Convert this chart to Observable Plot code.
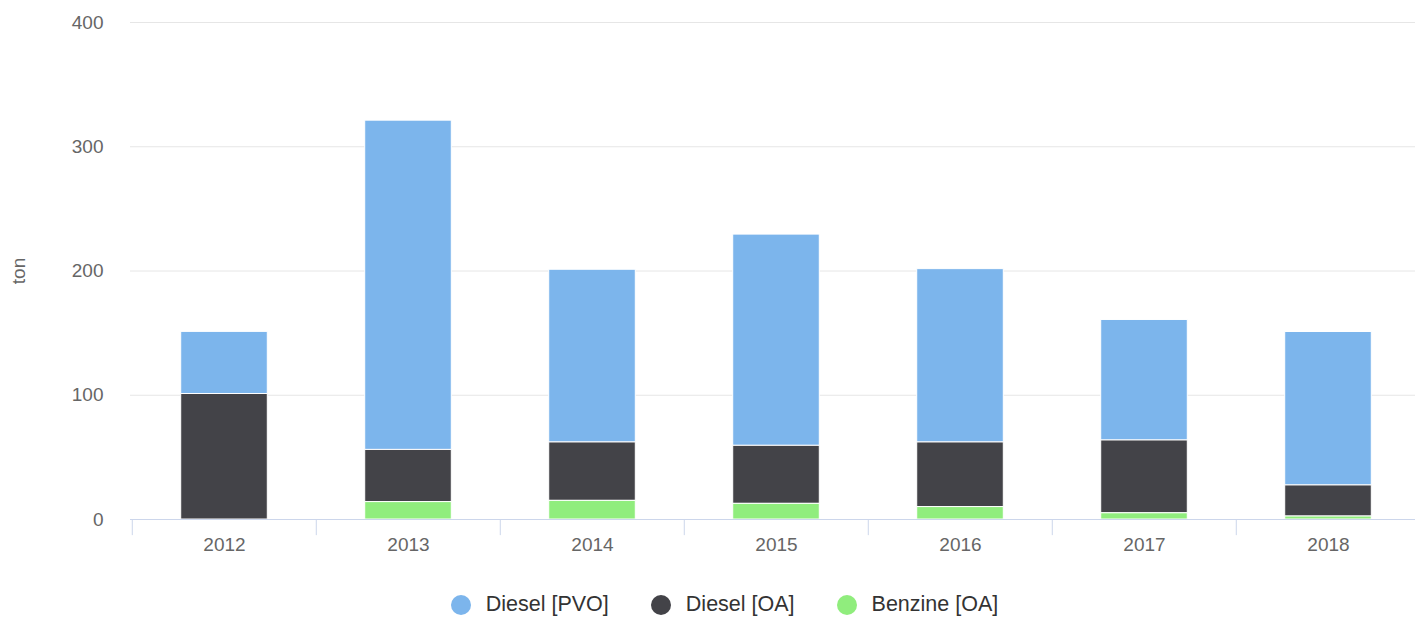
<!DOCTYPE html>
<html>
<head>
<meta charset="utf-8">
<script src="https://cdn.jsdelivr.net/npm/d3@7"></script>
<script src="https://cdn.jsdelivr.net/npm/@observablehq/plot@0.6"></script>
<style>
  html, body { margin: 0; padding: 0; background: #fff; overflow: hidden; }
  body { width: 1415px; height: 619px; position: relative; font-family: "Liberation Sans", Arial, sans-serif; }
  #chart { width: 1415px; overflow: hidden; }
  #legend { position: absolute; left: 17px; top: 592px; width: 1415px; display: flex; justify-content: center; align-items: center; font-size: 21.5px; color: #333; }
  .item { display: flex; align-items: center; margin: 0 21px; }
  .dot { width: 20px; height: 20px; border-radius: 50%; margin-right: 15px; }
</style>
</head>
<body>
<div id="chart"></div>
<div id="legend"></div>
<script>
const years = ["2012", "2013", "2014", "2015", "2016", "2017", "2018"];
const seriesNames = ["Diesel [PVO]", "Diesel [OA]", "Benzine [OA]"];
const seriesColors = ["#7cb5ec", "#434348", "#90ed7d"];
const dieselPVO = [50, 265, 139, 170, 139.5, 97, 123.5];
const dieselOA = [101, 42, 47, 46.7, 52, 58.6, 25];
const benzineOA = [0, 14, 15, 12.6, 10, 5, 2.4];
const yTicks = [0, 100, 200, 300, 400];

const seriesValues = [dieselPVO, dieselOA, benzineOA];
const data = [];
years.forEach((yr, i) => {
  seriesNames.forEach((s, j) => data.push({year: yr, series: s, value: seriesValues[j][i]}));
});
const stackOrder = ["Benzine [OA]", "Diesel [OA]", "Diesel [PVO]"];

const W = 1421, ML = 130, MR = 0;
const bw = (W - ML - MR) / years.length;
const barW = 87;
const inset = (bw - barW) / 2;

const chart = Plot.plot({
  width: W,
  height: 570,
  marginLeft: ML,
  marginRight: MR,
  marginTop: 22,
  marginBottom: 51,
  style: {fontFamily: "'Liberation Sans', Arial, sans-serif", fontSize: "19px", color: "#666666", background: "#fff", maxWidth: "none"},
  x: {domain: years, padding: 0, label: null},
  y: {domain: [0, 400], label: null},
  color: {domain: seriesNames, range: seriesColors},
  marks: [
    Plot.gridY(yTicks.slice(1), {stroke: "#e6e6e6", strokeOpacity: 1, strokeWidth: 1}),
    Plot.axisY(yTicks, {tickSize: 0, tickPadding: 27, fontSize: 19, fill: "#666666", label: null}),
    Plot.barY(data, Plot.stackY({
      x: "year", y: "value", z: "series", fill: "series",
      order: stackOrder,
      stroke: "#ffffff", strokeWidth: 1,
      insetLeft: inset, insetRight: inset
    })),
    Plot.ruleY([0], {stroke: "#ccd6eb", strokeWidth: 1}),
    Plot.ruleX(years, {x: d => d, dx: -bw / 2, y1: 0, y2: -13, stroke: "#ccd6eb"}),
    Plot.ruleX([years[years.length - 1]], {x: d => d, dx: bw / 2 - 1, y1: 0, y2: -13, stroke: "#ccd6eb"}),
    Plot.axisX({tickSize: 0, tickPadding: 18, fontSize: 19, fill: "#666666", label: null}),
    Plot.text(["ton"], {frameAnchor: "left", dx: -112, rotate: -90, text: d => d, fontSize: 19, fill: "#666666", textAnchor: "middle"})
  ]
});
document.getElementById("chart").appendChild(chart);

const legend = document.getElementById("legend");
seriesNames.forEach((s, j) => {
  const item = document.createElement("div");
  item.className = "item";
  const dot = document.createElement("span");
  dot.className = "dot";
  dot.style.background = seriesColors[j];
  const label = document.createElement("span");
  label.textContent = s;
  item.appendChild(dot);
  item.appendChild(label);
  legend.appendChild(item);
});
</script>
</body>
</html>
